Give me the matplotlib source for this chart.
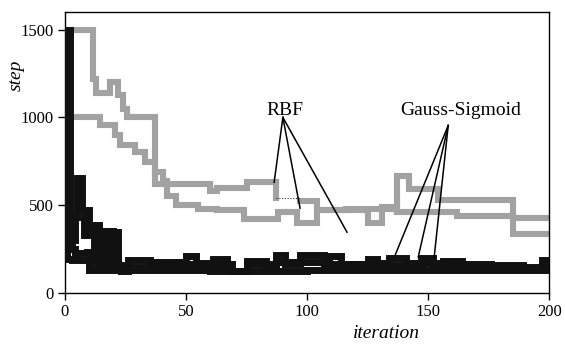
import numpy as np
import matplotlib.pyplot as plt

plt.rcParams['font.family'] = ['Liberation Serif', 'DejaVu Serif']

# RBF runs, step breakpoints (iteration, step)
rbf_a_x = [0, 11.5, 13, 18.5, 22, 24, 25.5, 37, 60, 63, 75, 87, 97, 104, 116, 137, 142, 154, 185, 200]
rbf_a_y = [1500, 1220, 1140, 1200, 1125, 1050, 1000, 620, 580, 600, 630, 540, 525, 470, 480, 665, 590, 530, 425, 425]
rbf_a_thin = 11  # 87..97 is drawn as a thin dotted piece

rbf_b_x = [0, 14.5, 20.7, 22.7, 29, 33, 37, 40.5, 42, 46, 55, 63, 74, 88, 96, 104, 125, 131, 137, 162, 185, 200]
rbf_b_y = [1000, 955, 900, 840, 800, 745, 690, 640, 550, 500, 480, 470, 420, 460, 400, 470, 400, 490, 460, 440, 335, 335]

# Gauss-Sigmoid runs: dense per-iteration start, then breakpoints
gs1_x = list(range(0, 25)) + [25, 26, 35, 50, 54, 61, 67, 69, 75, 83, 87, 91, 97, 107, 109, 114,
                              125, 129, 134, 141, 147, 152, 156, 164, 176, 189, 197, 200]
gs1_y = [200, 1500, 420, 300, 430, 655, 655, 475, 330, 475, 340, 385, 220, 385, 200, 355, 150, 355,
         140, 350, 150, 345, 140, 125, 125,
         125, 188, 178, 210, 173, 193, 163, 125, 183, 153, 216, 163, 218, 163, 210, 163,
         193, 170, 198, 158, 198, 163, 183, 153, 160, 143, 188, 188]

gs2_x = list(range(0, 25)) + [25, 35, 50, 61, 69, 75, 87, 97, 109, 125, 141, 156, 176, 200]
gs2_y = [390, 300, 380, 250, 220, 230, 225, 230, 225, 235, 220, 200, 190, 170, 165, 200, 175, 185,
         170, 180, 165, 175, 160, 150, 150,
         150, 160, 165, 160, 125, 165, 175, 175, 165, 160, 170, 165, 150, 150]

gs3_x = [0, 3, 10, 25, 60, 100, 150, 200]
gs3_y = [195, 185, 130, 130, 125, 130, 128, 130]

# pointer lines: label anchor and curve ends
rbf_label = (90.9, 1011)
rbf_apex = (90, 1000)
rbf_ends = [(86.4, 630), (97.1, 483), (116.5, 346)]
gs_label = (163.6, 1011)
gs_apex = (158.3, 954)
gs_ends = [(136.4, 216), (145.9, 204), (152.5, 204)]

fig = plt.figure(figsize=(5.65, 3.45), dpi=100)
ax = fig.add_axes([0.115, 0.151, 0.857, 0.814])

gray = dict(color='#a2a2a2', lw=4.4, drawstyle='steps-post',
            solid_joinstyle='miter', solid_capstyle='projecting', zorder=2)
black = dict(color='#111111', lw=5.0, drawstyle='steps-post',
             solid_joinstyle='miter', solid_capstyle='projecting', zorder=3)

i = rbf_a_thin
ax.plot(rbf_a_x[:i + 1], rbf_a_y[:i + 1], **gray)
ax.plot(rbf_a_x[i + 1:], rbf_a_y[i + 1:], **gray)
ax.plot([rbf_a_x[i], rbf_a_x[i + 1]], [rbf_a_y[i], rbf_a_y[i]], color='#333333', lw=0.8,
        ls=(0, (1, 1.5)), zorder=2)
ax.plot(rbf_b_x, rbf_b_y, **gray)

for xs, ys in [(gs1_x, gs1_y), (gs2_x, gs2_y), (gs3_x, gs3_y)]:
    ax.plot(xs, ys, **black)

for apex, ends in [(rbf_apex, rbf_ends), (gs_apex, gs_ends)]:
    for e in ends:
        ax.plot([apex[0], e[0]], [apex[1], e[1]], color='black', lw=1.1, zorder=4)

ax.text(*rbf_label, 'RBF', fontsize=14, ha='center', va='baseline', zorder=5)
ax.text(*gs_label, 'Gauss-Sigmoid', fontsize=14, ha='center', va='baseline', zorder=5)

ax.set_xlim(0, 200)
ax.set_ylim(0, 1600)
ax.set_xticks([0, 50, 100, 150, 200])
ax.set_yticks([0, 500, 1000, 1500])
ax.tick_params(direction='out', length=5, width=1, labelsize=12, pad=3)
for s in ax.spines.values():
    s.set_linewidth(1.0)

fig.text(16 / 565, 1 - 75 / 345, 'step', rotation=90, fontsize=14, style='italic',
         ha='center', va='center')
fig.text(386 / 565, 1 - 334 / 345, 'iteration', fontsize=14, style='italic',
         ha='center', va='center')

fig.savefig('out.png', dpi=100)
